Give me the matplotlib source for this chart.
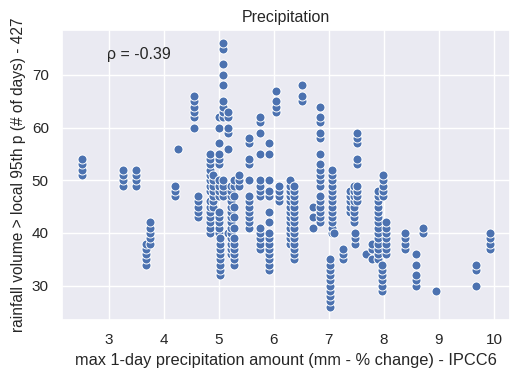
import matplotlib
matplotlib.use("Agg")
import matplotlib.pyplot as plt
import numpy as np
import pandas as pd
import seaborn as sns

sns.set_theme(style="darkgrid")
plt.rcParams['font.family'] = ['Liberation Sans', 'DejaVu Sans']

# one column of points per grid-cell value of max 1-day precipitation
col_x = [2.52, 3.26, 3.50, 3.68, 3.75, 4.20, 4.25, 4.55, 4.63, 4.84,
         4.89, 5.01, 5.03, 5.08, 5.16, 5.23, 5.28, 5.37, 5.55, 5.75,
         5.91, 6.04, 6.09, 6.30, 6.37, 6.52, 6.72, 6.84, 7.02, 7.06,
         7.10, 7.25, 7.38, 7.45, 7.48, 7.52, 7.68, 7.79, 7.90, 7.96,
         7.99, 8.03, 8.38, 8.59, 8.71, 8.95, 9.67, 9.92]
col_days = [
    [51, 52, 53, 54],
    [49, 50, 51, 52],
    [49, 50, 51, 52],
    [34, 35, 36, 37, 38],
    [38, 39, 40, 41, 42],
    [47, 48, 49],
    [56],
    [60, 62, 63, 64, 65, 66],
    [43, 44, 45, 46, 47],
    [40, 41, 42, 43, 44, 45, 46, 48, 49, 50, 51, 52, 53, 54, 55],
    [45, 46, 47, 48, 49, 50, 51],
    [40, 41, 42, 43, 44, 47, 48, 49, 50, 53, 54, 55, 57, 60, 62],
    [32, 33, 34, 35, 36, 37, 38, 39],
    [47, 48, 49, 50, 62, 63, 64, 65, 68, 70, 72, 75, 76],
    [40, 56, 59, 60, 62, 63],
    [36, 37, 38, 39, 40, 41, 42, 43, 44, 45, 46, 47, 48, 49],
    [34, 35, 36, 37, 38, 39, 41, 43, 45, 47, 49, 50],
    [49, 50, 51],
    [41, 42, 43, 44, 45, 46, 47, 50, 53, 54, 57, 58],
    [37, 38, 39, 40, 41, 47, 48, 49, 50, 55, 59, 61, 62],
    [33, 34, 35, 36, 37, 38, 39, 40, 42, 44, 47, 48, 50, 55, 57],
    [63, 64, 65, 67],
    [46, 47, 48, 49],
    [38, 39, 40, 41, 42, 43, 44, 45, 46, 47, 48, 49, 50],
    [35, 36, 37, 38, 39, 40, 41, 42, 43, 44, 45, 46, 47, 48, 49],
    [65, 66, 68],
    [41, 43, 45],
    [42, 43, 44, 45, 46, 47, 49, 50, 51, 52, 53, 55, 58, 59, 61, 62, 64],
    [26, 27, 28, 29, 30, 31, 32, 33, 34, 35],
    [40, 41, 42, 43, 44, 45, 46, 47, 48, 49, 50, 51, 52],
    [40],
    [35, 36, 37],
    [44, 45, 46, 47, 48],
    [42, 43, 44, 45, 46, 47, 48, 49],
    [38, 39, 40],
    [46, 47, 48, 49, 53, 54, 57, 58, 59],
    [36],
    [35, 37, 38],
    [35, 36, 37, 38, 39, 40, 41, 42, 43, 44, 45, 46, 47, 48],
    [29, 30, 31, 32, 33, 34],
    [47, 48, 49, 50, 51],
    [36, 37, 38, 39, 40, 41, 42],
    [37, 38, 39, 40],
    [30, 31, 32, 34, 36],
    [40, 41],
    [29],
    [30, 33, 34],
    [37, 38, 39, 40],
]
rho = -0.39

xs = [x for x, ys in zip(col_x, col_days) for _ in ys]
ys = [y for days in col_days for y in days]
df = pd.DataFrame({"precip": xs, "days": ys})

fig, ax = plt.subplots(figsize=(5.12, 3.72), dpi=100)
fig.subplots_adjust(left=0.121, right=0.996, top=0.919, bottom=0.140)

sns.scatterplot(data=df, x="precip", y="days", ax=ax, s=42,
                color="#4c72b0", edgecolor="white", linewidth=0.7)

ax.text(0.1, 0.9, f"ρ = {rho}", transform=ax.transAxes, fontsize=11.5)
ax.set_title("Precipitation", fontsize=11.5)
ax.set_xlabel("max 1-day precipitation amount (mm - % change) - IPCC6", fontsize=11.8)
ax.set_ylabel("rainfall volume > local 95th p (# of days) - 427", fontsize=11.2)
ax.tick_params(labelsize=11)

plt.savefig("out.png", dpi=100)
